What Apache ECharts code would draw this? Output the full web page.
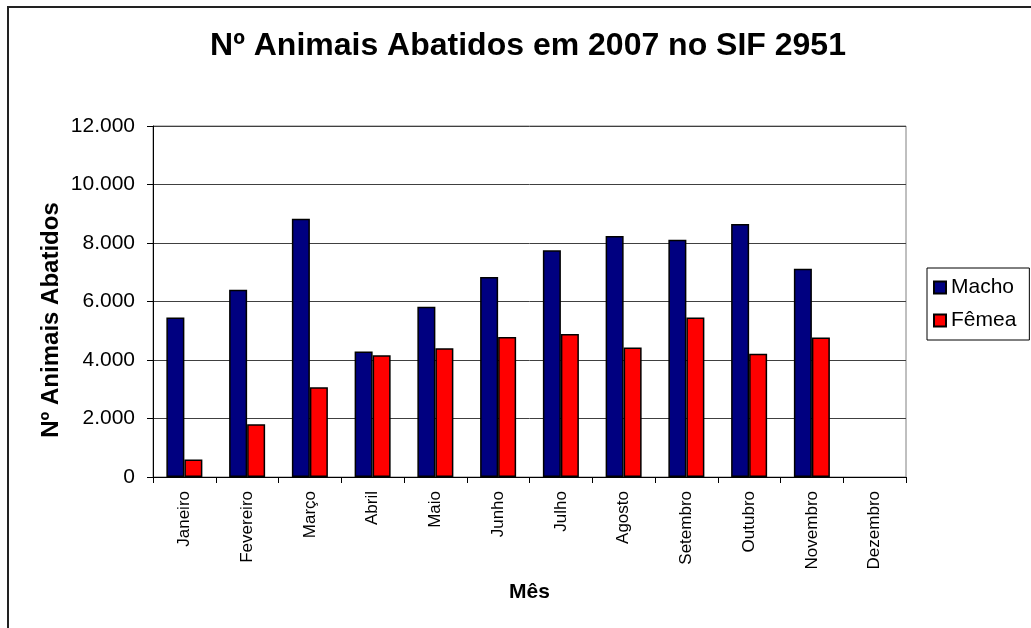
<!DOCTYPE html>
<html>
<head>
<meta charset="utf-8">
<title>Nº Animais Abatidos em 2007 no SIF 2951</title>
<script src="https://cdn.jsdelivr.net/npm/echarts@6/dist/echarts.min.js"></script>
<style>
  html, body { margin: 0; padding: 0; background: #fff; }
  #chart { width: 1031px; height: 628px; }
</style>
</head>
<body>
<div id="chart"></div>
<script>
// Months of 2007
const meses = ['Janeiro', 'Fevereiro', 'Março', 'Abril', 'Maio', 'Junho',
               'Julho', 'Agosto', 'Setembro', 'Outubro', 'Novembro', 'Dezembro'];
// Animals slaughtered per month, by sex (December not yet recorded)
const macho = [5450, 6400, 8830, 4290, 5820, 6840, 7750, 8240, 8110, 8650, 7120, null];
const femea = [600, 1800, 3070, 4160, 4400, 4790, 4890, 4430, 5450, 4210, 4770, null];
// Value axis ticks
const yMin = 0, yMax = 12000, yStep = 2000;

const FONT = '"Liberation Sans", Arial, sans-serif';

// Brazilian thousands separator: 12000 -> 12.000
function milhar(v) {
  return String(v).replace(/\B(?=(\d{3})+(?!\d))/g, '.');
}

const chart = echarts.init(document.getElementById('chart'), null, { renderer: 'canvas' });

chart.setOption({
  animation: false,
  backgroundColor: '#ffffff',
  textStyle: { fontFamily: FONT },
  grid: { left: 153, right: 125, top: 126, bottom: 151, containLabel: false,
          show: true, borderColor: '#808080', borderWidth: 1, backgroundColor: 'transparent' },
  legend: {
    orient: 'vertical',
    left: 927, top: 268,
    padding: [9, 13, 9, 6],
    itemGap: 12,
    itemWidth: 12, itemHeight: 12,
    borderColor: '#000', borderWidth: 1,
    icon: 'rect',
    textStyle: { fontFamily: FONT, fontSize: 21, color: '#000' },
    data: ['Macho', 'Fêmea']
  },
  xAxis: {
    type: 'category',
    data: meses,
    name: 'Mês',
    nameLocation: 'middle',
    nameGap: 105,
    nameTextStyle: { fontFamily: FONT, fontSize: 21, fontWeight: 'bold', color: '#000' },
    axisLine: { lineStyle: { color: '#000', width: 1 } },
    axisTick: { show: true, length: 6, lineStyle: { color: '#000' } },
    axisLabel: { rotate: 90, margin: 14, fontFamily: FONT, fontSize: 17, color: '#000' },
    splitLine: { show: false }
  },
  yAxis: {
    type: 'value',
    min: yMin, max: yMax, interval: yStep,
    axisLine: { show: true, lineStyle: { color: '#000', width: 1 } },
    axisTick: { show: true, length: 6, lineStyle: { color: '#000' } },
    axisLabel: { margin: 18, fontFamily: FONT, fontSize: 21, color: '#000', formatter: milhar },
    splitLine: { lineStyle: { color: '#404040', width: 1 } }
  },
  series: [
    {
      name: 'Macho', type: 'bar', data: macho,
      barWidth: 18, barGap: '0%',
      itemStyle: { color: '#000080', borderColor: '#000', borderWidth: 1.5 }
    },
    {
      name: 'Fêmea', type: 'bar', data: femea,
      barWidth: 18, barGap: '0%',
      itemStyle: { color: '#ff0000', borderColor: '#000', borderWidth: 1.5 }
    }
  ],
  graphic: [
    // chart frame
    { type: 'rect', shape: { x: 8, y: 7, width: 1040, height: 640 },
      style: { fill: 'none', stroke: '#222', lineWidth: 2 }, silent: true },
    // chart title
    { type: 'text', x: 528, y: 46,
      style: { text: 'Nº Animais Abatidos em 2007 no SIF 2951', fontFamily: FONT,
               fontSize: 32, fontWeight: 'bold', fill: '#000',
               textAlign: 'center', textVerticalAlign: 'middle' } },
    // value axis title
    { type: 'text', x: 51, y: 320, rotation: Math.PI / 2,
      style: { text: 'Nº Animais Abatidos', fontFamily: FONT,
               fontSize: 24, fontWeight: 'bold', fill: '#000',
               textAlign: 'center', textVerticalAlign: 'middle' } }
  ]
});
</script>
</body>
</html>
